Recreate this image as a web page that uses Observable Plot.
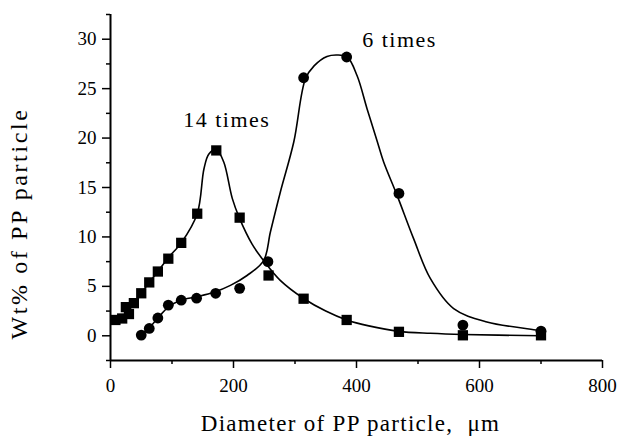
<!DOCTYPE html>
<html>
<head>
<meta charset="utf-8">
<script src="https://cdn.jsdelivr.net/npm/d3@7"></script>
<script src="https://cdn.jsdelivr.net/npm/@observablehq/plot@0.6"></script>
<style>
  html, body { margin: 0; padding: 0; background: #fff; }
  #chart svg { display: block; }
</style>
</head>
<body>
<div id="chart"></div>
<script>
// ---- data ----
// "14 times" series (squares)
const sqX = [8, 19, 25, 30, 38, 50, 63, 77, 94, 115, 141, 172, 210, 257, 314, 384, 469, 573, 700];
const sqY = [1.6, 1.75, 2.9, 2.2, 3.3, 4.3, 5.4, 6.5, 7.8, 9.4, 12.35, 18.75, 11.95, 6.1, 3.75, 1.6, 0.4, 0.05, 0.05];
// "6 times" series (circles)
const ciX = [50, 63, 77, 94, 115, 140, 171, 210, 256, 314, 384, 469, 573, 700];
const ciY = [0.07, 0.74, 1.8, 3.1, 3.6, 3.8, 4.3, 4.8, 7.5, 26.1, 28.2, 14.4, 1.08, 0.47];
// fitted curves
const sqCurveX = [5, 19, 30, 40, 50, 63, 77, 94, 115, 141, 152, 160, 172, 184, 198, 210, 230, 249, 276, 314, 350, 384, 420, 469, 520, 573, 700];
const sqCurveY = [1.5, 1.9, 2.6, 3.4, 4.3, 5.4, 6.5, 7.9, 9.4, 12.35, 16.9, 18.4, 18.85, 17.6, 13.9, 11.85, 9.3, 7.6, 5.6, 3.77, 2.5, 1.6, 1.0, 0.45, 0.25, 0.13, 0.0];
const ciCurveX = [50, 63, 77, 94, 114, 140, 168, 195, 222, 249, 260, 276, 298, 317, 331, 352, 368, 385, 401, 417, 434, 444, 466, 493, 520, 558, 612, 694, 700];
const ciCurveY = [0.07, 0.8, 1.8, 2.9, 3.6, 3.95, 4.4, 5.1, 6.1, 7.6, 10.5, 14.5, 19.6, 26, 27.3, 28.25, 28.4, 28.2, 26.3, 23, 19.6, 17.6, 14.2, 9.8, 5.8, 2.75, 1.4, 0.57, 0.5];
// annotations
const labelText = ["14 times", "6 times"];
const labelX = [189, 470];
const labelY = [21.8, 29.9];
// ticks
const xMajor = [0, 200, 400, 600, 800];
const xMinor = [100, 300, 500, 700];
const yMajor = [0, 5, 10, 15, 20, 25, 30];
const yMinor = [-2.5, 2.5, 7.5, 12.5, 17.5, 22.5, 27.5, 32.5];
const xTitle = "Diameter of PP particle,  μm";
const yTitle = "Wt% of PP particle";

const sq = sqX.map((x, i) => ({x, y: sqY[i]}));
const ci = ciX.map((x, i) => ({x, y: ciY[i]}));
const sqC = sqCurveX.map((x, i) => ({x, y: sqCurveY[i]}));
const ciC = ciCurveX.map((x, i) => ({x, y: ciCurveY[i]}));
const labels = labelText.map((t, i) => ({t, x: labelX[i], y: labelY[i]}));

const font = "'Liberation Serif', 'Times New Roman', serif";

const chart = Plot.plot({
  width: 618,
  height: 436,
  marginLeft: 110,
  marginRight: 16,
  marginTop: 14,
  marginBottom: 76,
  style: {fontFamily: font, fontSize: "19px", color: "#000", background: "#fff"},
  x: {domain: [0, 800]},
  y: {domain: [-2.5, 32.5]},
  marks: [
    Plot.axisX(xMajor, {tickSize: 8, tickPadding: 10, tickFormat: d => String(d), fontSize: 19, strokeWidth: 1.5, label: null}),
    Plot.axisX(xMinor, {tickSize: 4, tickFormat: null, text: null, strokeWidth: 1.5, label: null}),
    Plot.axisY(yMajor, {tickSize: 8, tickPadding: 6, tickFormat: d => String(d), fontSize: 19, strokeWidth: 1.5, label: null}),
    Plot.axisY(yMinor, {tickSize: 4, tickFormat: null, text: null, strokeWidth: 1.5, label: null}),
    Plot.ruleY([-2.5], {stroke: "#000", strokeWidth: 2}),
    Plot.ruleX([0], {stroke: "#000", strokeWidth: 2}),
    Plot.line(sqC, {x: "x", y: "y", curve: "catmull-rom", stroke: "#000", strokeWidth: 1.6}),
    Plot.line(ciC, {x: "x", y: "y", curve: "catmull-rom", stroke: "#000", strokeWidth: 1.6}),
    Plot.dot(sq, {x: "x", y: "y", symbol: "square", r: 5.8, fill: "#000", stroke: "none"}),
    Plot.dot(ci, {x: "x", y: "y", symbol: "circle", r: 5.4, fill: "#000", stroke: "none"}),
    Plot.text(labels, {x: "x", y: "y", text: "t", fontSize: 22, fill: "#000", textAnchor: "middle", lineAnchor: "middle"}),
    Plot.text([xTitle], {frameAnchor: "bottom", dy: 63, dx: -6, text: d => d, fontSize: 23, fill: "#000", lineAnchor: "middle"}),
    Plot.text([yTitle], {frameAnchor: "left", text: d => d, fontSize: 24, fill: "#000", textAnchor: "middle", lineAnchor: "middle"})
  ]
});
// letter spacing tweaks for the stretched serif lettering; place the rotated y title
d3.select(chart).selectAll("text").each(function() {
  const t = this.textContent;
  if (t === xTitle) this.setAttribute("letter-spacing", "1.3");
  if (t === yTitle) {
    this.setAttribute("letter-spacing", "2.6");
    this.removeAttribute("x");
    this.removeAttribute("y");
    this.setAttribute("transform", "translate(26,223) rotate(-90)");
  }
  if (labelText.includes(t)) this.setAttribute("letter-spacing", "1.5");
});
document.getElementById("chart").appendChild(chart);
</script>
</body>
</html>
